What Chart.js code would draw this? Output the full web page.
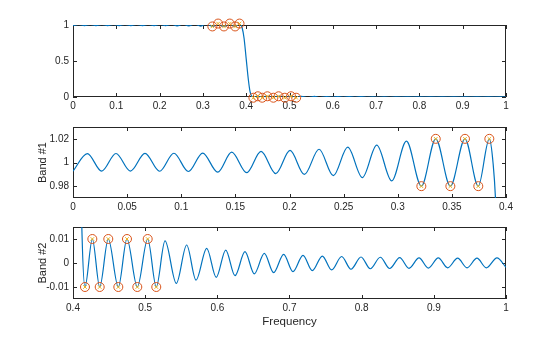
<!DOCTYPE html>
<html>
<head>
<meta charset="utf-8">
<script src="https://cdn.jsdelivr.net/npm/chart.js"></script>
<style>
  html, body { margin: 0; padding: 0; background: #fff; }
  #wrap { position: relative; width: 560px; height: 337px; overflow: hidden; }
  canvas { position: absolute; left: 0; }
</style>
</head>
<body>
<div id="wrap">
  <canvas id="full" width="560" height="120" style="top:0px"></canvas>
  <canvas id="band1" width="560" height="110" style="top:110px"></canvas>
  <canvas id="band2" width="560" height="122" style="top:215px"></canvas>
</div>
<script>
// passband ripple extrema (frequency, amplitude)
const passFreq = [0, 0.0132, 0.0265, 0.0397, 0.0530, 0.0665, 0.0800, 0.0932, 0.1066, 0.1198,
  0.1337, 0.1466, 0.1605, 0.1737, 0.1873, 0.2005, 0.2137, 0.2273, 0.2405, 0.2538,
  0.2673, 0.2806, 0.2944, 0.3080, 0.3218, 0.3351, 0.3486, 0.3621, 0.3744, 0.3846];
const passVal = [0.9927, 1.0075, 0.9927, 1.0076, 0.9927, 1.0077, 0.9926, 1.0078, 0.9924, 1.0080,
  0.9918, 1.0087, 0.9914, 1.0094, 0.9906, 1.0102, 0.9899, 1.0112, 0.9889, 1.0130,
  0.9873, 1.0147, 0.9845, 1.0180, 0.98, 1.02, 0.98, 1.02, 0.98, 1.02];

// transition band
const transFreq = [0.388, 0.3905, 0.395, 0.400, 0.405, 0.409, 0.4125];
const transVal = [1.0, 0.965, 0.82, 0.53, 0.24, 0.07, 0.012];

// stopband ripple extrema
const stopFreq = [0.4166, 0.4268, 0.4370, 0.4489, 0.4628, 0.4748, 0.4891, 0.5035, 0.5154, 0.5275,
  0.5432, 0.5575, 0.5705, 0.5853, 0.5985, 0.6116, 0.6245, 0.6383, 0.6512, 0.6651,
  0.6780, 0.6919, 0.7048, 0.7187, 0.7316, 0.7455, 0.7584, 0.7723, 0.7852, 0.7991,
  0.8120, 0.8258, 0.8388, 0.8527, 0.8656, 0.8795, 0.8924, 0.9062, 0.9192, 0.9330,
  0.9460, 0.9598, 0.9727, 0.9875, 1.0];
const stopVal = [-0.01, 0.01, -0.01, 0.01, -0.01, 0.01, -0.01, 0.01, -0.01, 0.0092,
  -0.0085, 0.0075, -0.0071, 0.0061, -0.0060, 0.0054, -0.0053, 0.0047, -0.0045, 0.0040,
  -0.0040, 0.0036, -0.0036, 0.0032, -0.0032, 0.0029, -0.0029, 0.0027, -0.0026, 0.0025,
  -0.0024, 0.0024, -0.0023, 0.0022, -0.0022, 0.0021, -0.0021, 0.0021, -0.0020, 0.0020,
  -0.0020, 0.0020, -0.0020, 0.0021, -0.0018];

// marked extremal frequencies
const passMarkFreq = [0.3218, 0.3351, 0.3486, 0.3621, 0.3744, 0.3846];
const passMarkVal = [0.98, 1.02, 0.98, 1.02, 0.98, 1.02];
const stopMarkFreq = [0.4166, 0.4268, 0.4370, 0.4489, 0.4628, 0.4748, 0.4891, 0.5035, 0.5154];
const stopMarkVal = [-0.01, 0.01, -0.01, 0.01, -0.01, 0.01, -0.01, 0.01, -0.01];

// tick labels
const fullXTicks = [0, 0.1, 0.2, 0.3, 0.4, 0.5, 0.6, 0.7, 0.8, 0.9, 1];
const fullYTicks = [0, 0.5, 1];
const band1XTicks = [0, 0.05, 0.1, 0.15, 0.2, 0.25, 0.3, 0.35, 0.4];
const band1YTicks = [0.98, 1, 1.02];
const band2XTicks = [0.4, 0.5, 0.6, 0.7, 0.8, 0.9, 1];
const band2YTicks = [-0.01, 0, 0.01];

const INK = '#262626';
Chart.defaults.font.family = "'Liberation Sans', Arial, Helvetica, sans-serif";
Chart.defaults.font.size = 10;
Chart.defaults.color = INK;

const allFreq = passFreq.concat(transFreq, stopFreq);
const allVal = passVal.concat(transVal, stopVal);
const toPts = (fs, vs) => fs.map((f, i) => ({ x: f, y: vs[i] }));

const lineDs = () => ({
  data: toPts(allFreq, allVal),
  borderColor: '#0072BD', borderWidth: 1.2,
  pointRadius: 0, cubicInterpolationMode: 'monotone', fill: false
});
const circleDs = (fs, vs) => ({
  data: toPts(fs, vs), showLine: false, clip: false,
  pointStyle: 'circle', pointRadius: 4.5, pointBorderWidth: 1,
  pointBorderColor: '#D95319', pointBackgroundColor: 'rgba(0,0,0,0)'
});
const crossDs = (fs, vs) => ({
  data: toPts(fs, vs), showLine: false, clip: false,
  pointStyle: 'crossRot', pointRadius: 2.5, pointBorderWidth: 1,
  pointBorderColor: '#EDB120', pointBackgroundColor: 'rgba(0,0,0,0)'
});

// matlab-style box with inward ticks
const boxPlugin = {
  id: 'box',
  beforeDatasetsDraw(chart) {
    const { ctx, chartArea: a } = chart;
    const xs = chart.scales.x, ys = chart.scales.y;
    ctx.save();
    ctx.strokeStyle = INK;
    ctx.lineWidth = 1;
    ctx.strokeRect(a.left + 0.5, a.top + 0.5, a.right - a.left - 1, a.bottom - a.top - 1);
    ctx.beginPath();
    xs.ticks.forEach(t => {
      const p = Math.round(xs.getPixelForValue(t.value)) + 0.5;
      ctx.moveTo(p, a.bottom); ctx.lineTo(p, a.bottom - 4);
      ctx.moveTo(p, a.top); ctx.lineTo(p, a.top + 4);
    });
    ys.ticks.forEach(t => {
      const p = Math.round(ys.getPixelForValue(t.value)) + 0.5;
      ctx.moveTo(a.left, p); ctx.lineTo(a.left + 4, p);
      ctx.moveTo(a.right, p); ctx.lineTo(a.right - 4, p);
    });
    ctx.stroke();
    ctx.restore();
  }
};

function makeChart(id, c) {
  return new Chart(document.getElementById(id), {
    type: 'line',
    data: { datasets: c.datasets },
    options: {
      responsive: false,
      animation: false,
      layout: { padding: { top: c.padTop, right: 54, left: 0, bottom: 0 } },
      plugins: { legend: { display: false }, tooltip: { enabled: false } },
      scales: {
        x: {
          type: 'linear', min: c.xMin, max: c.xMax,
          grid: { display: false, drawTicks: false }, border: { display: false },
          ticks: { padding: 3, autoSkip: false, maxRotation: 0, callback: v => String(v) },
          afterBuildTicks: s => { s.ticks = c.xTicks.map(v => ({ value: v })); },
          afterFit: s => { s.height = c.xHeight; },
          title: c.xTitle
            ? { display: true, text: c.xTitle, font: { size: 11.5 }, color: INK, padding: { top: 0, bottom: 8 } }
            : { display: false }
        },
        y: {
          type: 'linear', min: c.yMin, max: c.yMax,
          grid: { display: false, drawTicks: false }, border: { display: false },
          ticks: { padding: 4, autoSkip: false, callback: v => String(v) },
          afterBuildTicks: s => { s.ticks = c.yTicks.map(v => ({ value: v })); },
          afterFit: s => { s.width = 73; },
          title: c.yTitle
            ? { display: true, text: c.yTitle, font: { size: 11 }, color: INK, padding: { top: 36, bottom: 0 } }
            : { display: false }
        }
      }
    },
    plugins: [boxPlugin]
  });
}

makeChart('full', {
  padTop: 25, xHeight: 23,
  xMin: 0, xMax: 1, yMin: 0, yMax: 1,
  xTicks: fullXTicks, yTicks: fullYTicks,
  datasets: [
    crossDs(passMarkFreq.concat(stopMarkFreq), passMarkVal.concat(stopMarkVal)),
    circleDs(passMarkFreq.concat(stopMarkFreq), passMarkVal.concat(stopMarkVal)),
    lineDs()
  ]
});

makeChart('band1', {
  padTop: 17, xHeight: 22,
  xMin: 0, xMax: 0.4, yMin: 0.97, yMax: 1.03,
  xTicks: band1XTicks, yTicks: band1YTicks, yTitle: 'Band #1',
  datasets: [crossDs(passMarkFreq, passMarkVal), circleDs(passMarkFreq, passMarkVal), lineDs()]
});

makeChart('band2', {
  padTop: 12, xHeight: 38,
  xMin: 0.4, xMax: 1, yMin: -0.015, yMax: 0.015,
  xTicks: band2XTicks, yTicks: band2YTicks, yTitle: 'Band #2', xTitle: 'Frequency',
  datasets: [crossDs(stopMarkFreq, stopMarkVal), circleDs(stopMarkFreq, stopMarkVal), lineDs()]
});
</script>
</body>
</html>
